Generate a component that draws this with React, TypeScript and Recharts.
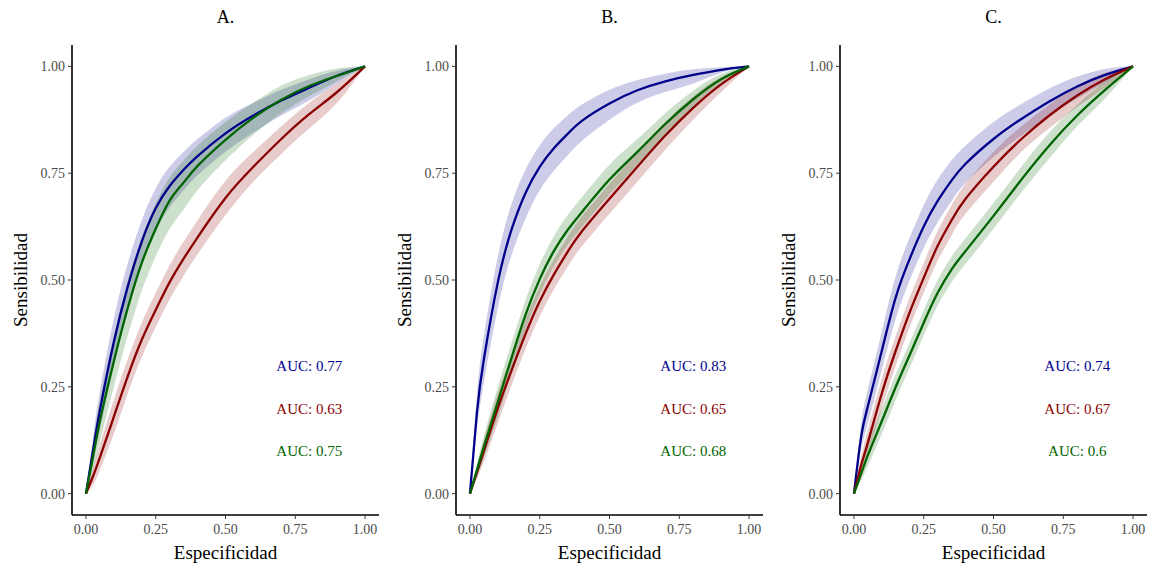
import React from 'react';
import { ComposedChart, Line, Area, XAxis, YAxis, ReferenceDot } from 'recharts';

// Shared grid of "Especificidad" values (x axis)
const xGrid = [0, 0.025, 0.05, 0.1, 0.15, 0.2, 0.25, 0.3, 0.35, 0.4, 0.5, 0.6, 0.7, 0.8, 0.9, 1];
const xTicks = [0, 0.25, 0.5, 0.75, 1];
const yTicks = [0, 0.25, 0.5, 0.75, 1];
const panelTitles = ['A.', 'B.', 'C.'];

// Panel A
const aBlue = [0, 0.10, 0.195, 0.355, 0.485, 0.59, 0.668, 0.72, 0.758, 0.79, 0.843, 0.885, 0.92, 0.95, 0.978, 1];
const aBlueLo = [0, 0.07, 0.15, 0.30, 0.43, 0.535, 0.615, 0.67, 0.71, 0.745, 0.80, 0.845, 0.885, 0.92, 0.96, 1];
const aBlueHi = [0, 0.13, 0.24, 0.41, 0.54, 0.64, 0.715, 0.765, 0.80, 0.83, 0.88, 0.915, 0.945, 0.97, 0.99, 1];
const aRed = [0, 0.04, 0.085, 0.18, 0.275, 0.36, 0.43, 0.495, 0.55, 0.60, 0.692, 0.765, 0.83, 0.888, 0.94, 1];
const aRedLo = [0, 0.02, 0.055, 0.14, 0.235, 0.32, 0.39, 0.455, 0.51, 0.56, 0.652, 0.73, 0.795, 0.855, 0.915, 1];
const aRedHi = [0, 0.06, 0.115, 0.22, 0.315, 0.40, 0.47, 0.535, 0.59, 0.64, 0.732, 0.80, 0.86, 0.915, 0.96, 1];
const aGreen = [0, 0.085, 0.17, 0.31, 0.435, 0.54, 0.62, 0.686, 0.728, 0.767, 0.828, 0.88, 0.922, 0.954, 0.978, 1];
const aGreenLo = [0, 0.055, 0.12, 0.25, 0.37, 0.475, 0.555, 0.62, 0.665, 0.71, 0.78, 0.84, 0.89, 0.93, 0.965, 1];
const aGreenHi = [0, 0.115, 0.22, 0.37, 0.50, 0.60, 0.68, 0.74, 0.78, 0.815, 0.87, 0.915, 0.955, 0.98, 0.995, 1];
const aAuc = ['AUC: 0.77', 'AUC: 0.63', 'AUC: 0.75'];

// Panel B
const bBlue = [0, 0.19, 0.315, 0.495, 0.62, 0.705, 0.765, 0.808, 0.842, 0.872, 0.913, 0.944, 0.965, 0.98, 0.992, 1];
const bBlueLo = [0, 0.15, 0.26, 0.435, 0.56, 0.645, 0.71, 0.755, 0.792, 0.825, 0.875, 0.915, 0.94, 0.96, 0.985, 1];
const bBlueHi = [0, 0.23, 0.37, 0.555, 0.68, 0.76, 0.815, 0.855, 0.885, 0.91, 0.945, 0.968, 0.983, 0.993, 0.998, 1];
const bRed = [0, 0.05, 0.10, 0.20, 0.29, 0.375, 0.45, 0.512, 0.566, 0.613, 0.69, 0.765, 0.838, 0.903, 0.958, 1];
const bRedLo = [0, 0.035, 0.075, 0.165, 0.255, 0.34, 0.415, 0.477, 0.531, 0.578, 0.655, 0.73, 0.805, 0.875, 0.94, 1];
const bRedHi = [0, 0.065, 0.125, 0.235, 0.325, 0.41, 0.485, 0.547, 0.601, 0.648, 0.725, 0.80, 0.87, 0.93, 0.975, 1];
const bGreen = [0, 0.055, 0.11, 0.215, 0.32, 0.42, 0.502, 0.567, 0.617, 0.658, 0.735, 0.80, 0.865, 0.923, 0.97, 1];
const bGreenLo = [0, 0.04, 0.085, 0.18, 0.285, 0.385, 0.467, 0.532, 0.582, 0.623, 0.70, 0.77, 0.84, 0.903, 0.958, 1];
const bGreenHi = [0, 0.07, 0.135, 0.25, 0.355, 0.455, 0.537, 0.602, 0.652, 0.693, 0.77, 0.83, 0.89, 0.943, 0.982, 1];
const bAuc = ['AUC: 0.83', 'AUC: 0.65', 'AUC: 0.68'];

// Panel C
const cBlue = [0, 0.13, 0.205, 0.335, 0.46, 0.55, 0.625, 0.685, 0.733, 0.772, 0.83, 0.877, 0.918, 0.953, 0.98, 1];
const cBlueLo = [0, 0.10, 0.165, 0.29, 0.41, 0.50, 0.575, 0.635, 0.685, 0.727, 0.788, 0.838, 0.885, 0.925, 0.963, 1];
const cBlueHi = [0, 0.16, 0.245, 0.38, 0.51, 0.60, 0.675, 0.735, 0.78, 0.815, 0.87, 0.912, 0.948, 0.976, 0.994, 1];
const cRed = [0, 0.065, 0.12, 0.235, 0.335, 0.425, 0.505, 0.58, 0.64, 0.69, 0.765, 0.83, 0.885, 0.932, 0.97, 1];
const cRedLo = [0, 0.045, 0.09, 0.20, 0.30, 0.39, 0.47, 0.545, 0.605, 0.655, 0.73, 0.80, 0.855, 0.905, 0.95, 1];
const cRedHi = [0, 0.085, 0.15, 0.27, 0.37, 0.46, 0.54, 0.615, 0.675, 0.725, 0.80, 0.86, 0.91, 0.955, 0.985, 1];
const cGreen = [0, 0.045, 0.09, 0.17, 0.25, 0.325, 0.40, 0.47, 0.525, 0.568, 0.65, 0.735, 0.815, 0.885, 0.945, 1];
const cGreenLo = [0, 0.03, 0.065, 0.14, 0.22, 0.295, 0.37, 0.44, 0.495, 0.538, 0.62, 0.705, 0.785, 0.86, 0.925, 1];
const cGreenHi = [0, 0.06, 0.115, 0.20, 0.28, 0.355, 0.43, 0.50, 0.555, 0.598, 0.68, 0.765, 0.845, 0.91, 0.965, 1];
const cAuc = ['AUC: 0.74', 'AUC: 0.67', 'AUC: 0.6'];

const aucY = [0.3, 0.2, 0.1];
const aucX = 0.8;

const BLUE = '#00008B';
const RED = '#8B0000';
const GREEN = '#006400';
const SERIF = '"Liberation Serif", "Times New Roman", Tinos, serif';
const CURVE = 'natural';

function buildRows(blue, blueLo, blueHi, red, redLo, redHi, green, greenLo, greenHi) {
  return xGrid.map((x, i) => ({
    x,
    blue: blue[i],
    blueBand: [blueLo[i], blueHi[i]],
    red: red[i],
    redBand: [redLo[i], redHi[i]],
    green: green[i],
    greenBand: [greenLo[i], greenHi[i]],
  }));
}

const panels = [
  { title: panelTitles[0], rows: buildRows(aBlue, aBlueLo, aBlueHi, aRed, aRedLo, aRedHi, aGreen, aGreenLo, aGreenHi), auc: aAuc },
  { title: panelTitles[1], rows: buildRows(bBlue, bBlueLo, bBlueHi, bRed, bRedLo, bRedHi, bGreen, bGreenLo, bGreenHi), auc: bAuc },
  { title: panelTitles[2], rows: buildRows(cBlue, cBlueLo, cBlueHi, cRed, cRedLo, cRedHi, cGreen, cGreenLo, cGreenHi), auc: cAuc },
];

const PW = 384;
const PH = 565;

function Panel({ p, idx }) {
  const colors = [BLUE, RED, GREEN];
  return (
    <div style={{ position: 'absolute', left: idx * PW, top: 0, width: PW, height: PH }}>
      <ComposedChart width={PW} height={PH} data={p.rows} margin={{ top: 45, right: 5, bottom: 0, left: 0 }}>
        <XAxis
          type="number"
          dataKey="x"
          domain={[-0.05, 1.05]}
          ticks={xTicks}
          allowDataOverflow
          tickFormatter={(v) => v.toFixed(2)}
          height={50}
          axisLine={{ stroke: '#000', strokeWidth: 1.6 }}
          tickLine={{ stroke: '#333', strokeWidth: 1 }}
          tickSize={4}
          tickMargin={5}
          tick={{ fill: '#4d4d4d', fontSize: 14, fontFamily: SERIF }}
        />
        <YAxis
          type="number"
          domain={[-0.05, 1.05]}
          ticks={yTicks}
          allowDataOverflow
          tickFormatter={(v) => v.toFixed(2)}
          width={72}
          axisLine={{ stroke: '#000', strokeWidth: 1.6 }}
          tickLine={{ stroke: '#333', strokeWidth: 1 }}
          tickSize={4}
          tickMargin={3}
          tick={{ fill: '#4d4d4d', fontSize: 14, fontFamily: SERIF }}
        />
        <Area dataKey="blueBand" type={CURVE} stroke="none" fill={BLUE} fillOpacity={0.2} isAnimationActive={false} />
        <Area dataKey="redBand" type={CURVE} stroke="none" fill={RED} fillOpacity={0.2} isAnimationActive={false} />
        <Area dataKey="greenBand" type={CURVE} stroke="none" fill={GREEN} fillOpacity={0.2} isAnimationActive={false} />
        <Line dataKey="blue" type={CURVE} stroke={BLUE} strokeWidth={2.3} dot={false} isAnimationActive={false} />
        <Line dataKey="red" type={CURVE} stroke={RED} strokeWidth={2.3} dot={false} isAnimationActive={false} />
        <Line dataKey="green" type={CURVE} stroke={GREEN} strokeWidth={2.3} dot={false} isAnimationActive={false} />
        {p.auc.map((t, i) => (
          <ReferenceDot
            key={t + i}
            x={aucX}
            y={aucY[i]}
            r={1}
            fill="none"
            stroke="none"
            label={{ value: t, position: 'center', fill: colors[i], fontSize: 15, fontFamily: SERIF }}
          />
        ))}
      </ComposedChart>
      <div style={{ position: 'absolute', left: 72, width: 307, top: 6, lineHeight: '22px', textAlign: 'center', fontFamily: SERIF, fontSize: 18, color: '#000' }}>
        {p.title}
      </div>
      <div style={{ position: 'absolute', left: 72, width: 307, top: 542, lineHeight: '22px', textAlign: 'center', fontFamily: SERIF, fontSize: 19, color: '#000' }}>
        Especificidad
      </div>
      <div style={{ position: 'absolute', left: 21, top: 280, width: 0, height: 0 }}>
        <div style={{ position: 'absolute', transform: 'translate(-50%, -50%) rotate(-90deg)', whiteSpace: 'nowrap', lineHeight: '22px', fontFamily: SERIF, fontSize: 19, color: '#000' }}>
          Sensibilidad
        </div>
      </div>
    </div>
  );
}

export default function App() {
  return (
    <div style={{ position: 'absolute', left: 0, top: 0, width: 1149, height: 565, background: '#fff', overflow: 'hidden' }}>
      {panels.map((p, i) => (
        <Panel key={p.title} p={p} idx={i} />
      ))}
    </div>
  );
}
